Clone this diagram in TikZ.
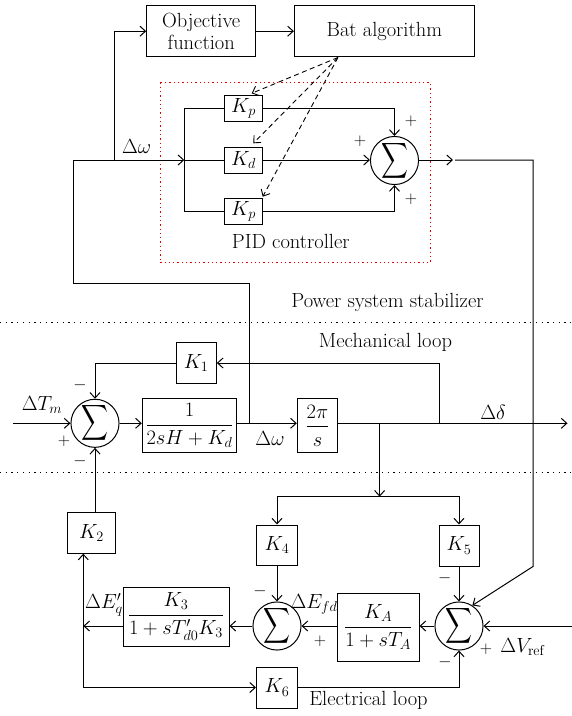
\documentclass[tikz,border=0pt]{standalone}
\usepackage{fix-cm}
\usepackage{amsmath}
\usepackage{graphicx}
\usetikzlibrary{arrows.meta,calc}
\begin{document}
\begin{tikzpicture}[x=1pt,y=-1pt,line width=1pt,
  >={Straight Barb[length=5.5pt,width=10pt]},
  every node/.style={font=\fontsize{20.5}{21.5}\selectfont,inner sep=0pt},
  blk/.style n args={2}{draw,minimum width=#1,minimum height=#2},
  sumnode/.style={draw,circle,minimum size=#1},
  sgn/.style={font=\fontsize{17}{18}\selectfont},
  dotline/.style={dash pattern=on 1.3pt off 4.4pt,line width=0.9pt},
  reddot/.style={draw=red!90!black,dash pattern=on 1.3pt off 3pt,line width=1pt},
  dasharrow/.style={->,dash pattern=on 5pt off 3.5pt,line width=0.9pt}]
\useasboundingbox (0,0) rectangle (572,716);
\newcommand{\sumsym}{\scalebox{0.9}[1.2]{$\displaystyle\sum$}}

% ---------- top: optimisation ----------
\node[blk={109pt}{51pt},align=center] (obj) at (201.2,31.2) {Objective\\function};
\node[blk={180pt}{51pt}] (bat) at (384.4,31.2) {Bat algorithm};
\draw[reddot] (160,82.3) rectangle (430,262.7);
\node (pidlbl) at (290.8,241.7) {PID controller};

\node[blk={38.4pt}{25.5pt}] (kp1) at (243.5,108.4) {$K_p$};
\node[blk={38.4pt}{26pt}] (kd) at (243.5,160) {$K_d$};
\node[blk={38.4pt}{26pt}] (kp2) at (243.5,211) {$K_p$};
\node[sumnode=45pt] (ps) at (394.5,160.5) {\sumsym};

\node[sgn] (pp1) at (411,121) {$+$};
\node[sgn] (pp2) at (360,141) {$+$};
\node[sgn] (pp3) at (411,199) {$+$};
\node (lw1) at (136.7,146.7) {$\Delta\omega$};

\coordinate (br) at (184.3,160);
\coordinate (j3) at (114,160);
\coordinate (fb1) at (249,283.3);
\coordinate (fb2) at (73.3,283.3);
\coordinate (fb3) at (73.3,160);
\coordinate (j2) at (249,423.3);

\draw[->] (j2) -- (fb1) -- (fb2) -- (fb3) -- (br);
\draw (br) -- (kd.west);
\draw (kp1.west) -| (br) |- (kp2.west);
\draw[->] (j3) |- (obj.west);
\draw[->] (obj) -- (bat);
\draw[->] (kp1.east) -| (ps.north);
\draw[->] (kd.east) -- (kd.east -| ps.west);
\draw[->] (kp2.east) -| (ps.south);

\coordinate (bo) at (338,57.5);
\coordinate (t1) at (251.7,93.3);
\coordinate (t2) at (253.3,143.3);
\coordinate (t3) at (262.7,196.7);
\draw[dasharrow] (bo) -- (t1);
\draw[dasharrow] (bo) -- (t2);
\draw[dasharrow] (bo) -- (t3);

\coordinate (pa) at (453,160);
\coordinate (pb) at (455,160);
\coordinate (pc) at (533,160);
\coordinate (pd) at (533,566.5);
\draw[->] (ps.east |- kd) -- (pa);

% ---------- separators ----------
\node (pss) at (387.5,302) {Power system stabilizer};
\draw[dotline] (0,322.7) -- (572,322.7);
\node (mech) at (385.5,342) {Mechanical loop};
\draw[dotline] (0,472.7) -- (572,472.7);

% ---------- mechanical loop ----------
\node[sumnode=41pt] (s1) at (95,423.3) {\sumsym};
\node[blk={94.4pt}{54.4pt}] (b1) at (189.5,425.5) {$\dfrac{1}{2sH+K_d}$};
\node[blk={40.4pt}{54.4pt}] (b2) at (317.5,425.5) {$\dfrac{2\pi}{s}$};
\node[blk={40.3pt}{40.6pt}] (k1) at (196.2,363) {$K_1$};

\node (ltm) at (42,405) {$\Delta T_m$};
\node[sgn] (s1p) at (64,441) {$+$};
\node[sgn] (s1m1) at (80,385) {$-$};
\node[sgn] (s1m2) at (80,461) {$-$};
\node (lw2) at (270,438) {$\Delta\omega$};
\node (ldd) at (493,412) {$\Delta\delta$};

\coordinate (tin) at (13,423.3);
\coordinate (dout) at (567.5,423.3);
\coordinate (j1) at (439,423.3);
\coordinate (j4) at (379.6,423.3);
\coordinate (j5) at (379.6,496.7);

\draw[->] (tin) -- (s1);
\draw[->] (s1.east) -- (s1.east -| b1.west);
\draw[->] (b1.east |- s1) -- (b2.west |- s1);
\draw[->] (b2.east |- s1) -- (dout);
\draw[->] (j1) |- (k1.east);
\draw[->] (k1.west) -| (s1.north);

% ---------- electrical loop ----------
\node[blk={48.3pt}{40.3pt}] (k2) at (91.5,533) {$K_2$};
\node[blk={41pt}{40pt}] (k4) at (277,545) {$K_4$};
\node[blk={40pt}{41pt}] (k5) at (459,545.5) {$K_5$};
\node[blk={41pt}{41pt}] (k6) at (277,687.5) {$K_6$};
\node[sumnode=40pt] (s3) at (277,626) {\sumsym};
\node[sumnode=41pt] (s4) at (459,626) {\sumsym};
\node[blk={106pt}{59pt}] (k3) at (176,616.5) {$\dfrac{K_3}{1+sT'_{d0}K_3}$};
\node[blk={81.7pt}{67.7pt}] (ka) at (378.2,627.2) {$\dfrac{K_A}{1+sT_A}$};

\node (leq) at (104,605) {$\Delta E'_q$};
\node (lefd) at (314,604) {$\Delta E_{fd}$};
\node[sgn] (s3m) at (260,591) {$-$};
\node[sgn] (s3p) at (320,641) {$+$};
\node[sgn] (s4m1) at (444.7,578) {$-$};
\node[sgn] (s4m2) at (445,662) {$-$};
\node[sgn] (s4p) at (486,649) {$+$};
\node (lvr) at (523,647) {$\Delta V_{\mathrm{ref}}$};
\node (elec) at (368.5,700) {Electrical loop};

\coordinate (vin) at (572,626);
\coordinate (eq) at (83.3,626);
\coordinate (bl) at (83.3,687.5);

\draw[->] (k2.north -| s1) -- (s1.south);
\draw[->] (j4) -- (j5);
\draw[->] (j5) -| (k4.north);
\draw[->] (j5) -| (k5.north);
\draw[->] (k4) -- (s3);
\draw[->] (k5) -- (s4);
\draw[->] (pb) -- (pc) -- (pd) -- (s4.57);
\draw[->] (vin) -- (s4);
\draw[->] (s4) -- (s4 -| ka.east);
\draw[->] (ka.west |- s3) -- (s3);
\draw[->] (s3) -- (s3 -| k3.east);
\draw[->] (k3.west |- s3) -- (eq);
\draw[->] (bl) -- (eq |- k2.south);
\draw[->] (bl) -- (k6);
\draw[->] (k6.east) -| (s4.south);
\end{tikzpicture}
\end{document}
